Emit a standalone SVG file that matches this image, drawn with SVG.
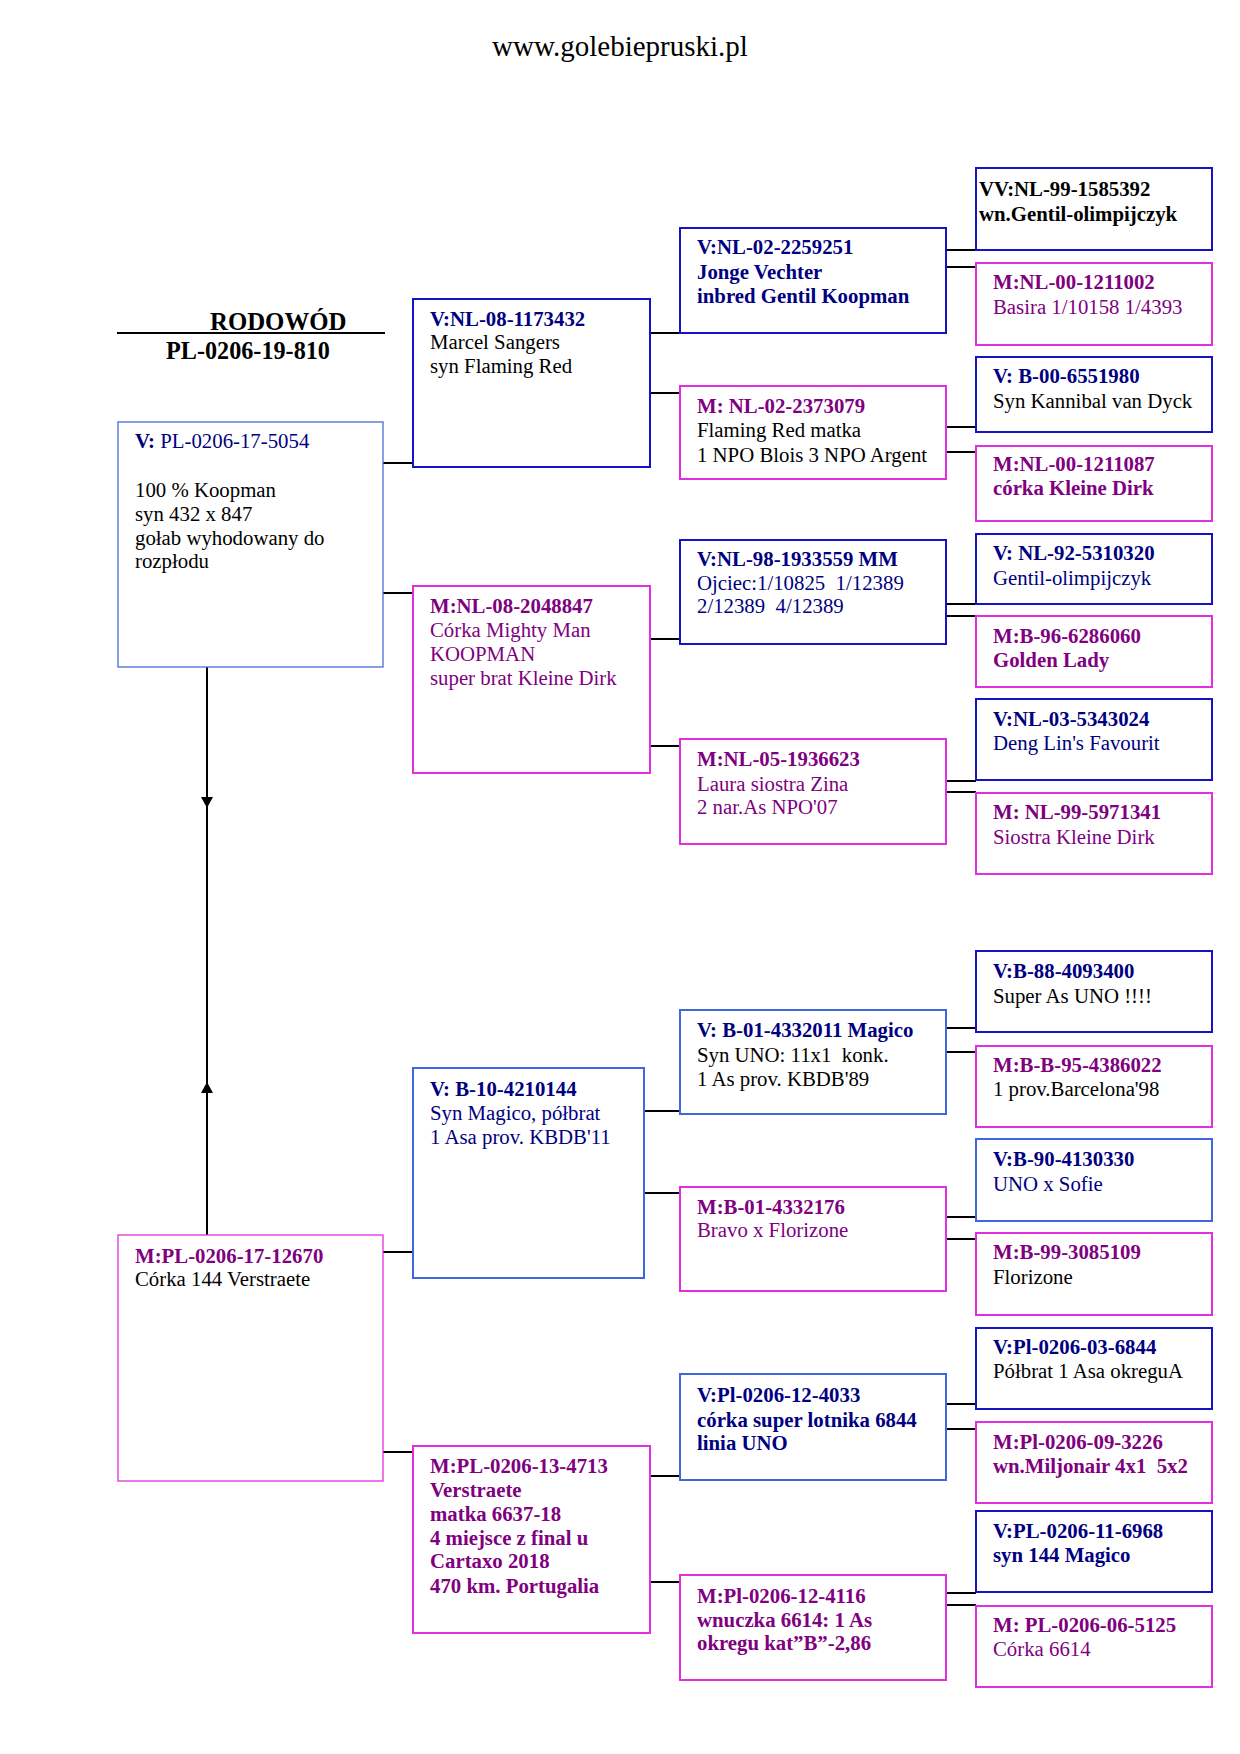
<svg xmlns="http://www.w3.org/2000/svg" width="1240" height="1754" viewBox="0 0 1240 1754">
<style>
text{font-family:"Liberation Serif","Times New Roman",serif;font-size:20.8px;white-space:pre}
.b{font-weight:bold}
.nv{fill:#000080}
.pu{fill:#800080}
.bk{fill:#000}
.bd{fill:#fff;stroke:#1414c4;stroke-width:2}
.bm{fill:#fff;stroke:#e02ee0;stroke-width:2}
.bl{fill:#fff;stroke:#3f68e0;stroke-width:2}
.bt{fill:#fff;stroke:#4a6cd4;stroke-width:1.3}
.bmt{fill:#fff;stroke:#e02ee0;stroke-width:1.3}
.c line{stroke:#000;stroke-width:2}
</style>
<rect x="0" y="0" width="1240" height="1754" fill="#fff"/>
<text x="620" y="56" text-anchor="middle" style="font-size:29px" class="bk">www.golebiepruski.pl</text>
<g id="header">
<line x1="117" y1="333" x2="385" y2="333" stroke="#000" stroke-width="2"/>
<text x="210" y="330" class="b bk" style="font-size:24.8px">RODOWÓD</text>
<text x="166" y="359" class="b bk" style="font-size:24.2px">PL-0206-19-810</text>
</g>
<g id="connectors" class="c">
<line x1="207" y1="667" x2="207" y2="1235"/>
<polygon points="201,797 213,797 207,808" fill="#000"/>
<polygon points="207,1082 201,1093 213,1093" fill="#000"/>
<line x1="383" y1="463" x2="413" y2="463"/>
<line x1="383" y1="593" x2="413" y2="593"/>
<line x1="383" y1="1252" x2="413" y2="1252"/>
<line x1="383" y1="1452" x2="413" y2="1452"/>
<line x1="650" y1="333" x2="680" y2="333"/>
<line x1="650" y1="393" x2="680" y2="393"/>
<line x1="650" y1="639" x2="680" y2="639"/>
<line x1="650" y1="746" x2="680" y2="746"/>
<line x1="644" y1="1111" x2="680" y2="1111"/>
<line x1="644" y1="1193" x2="680" y2="1193"/>
<line x1="650" y1="1476" x2="680" y2="1476"/>
<line x1="650" y1="1582" x2="680" y2="1582"/>
<line x1="946" y1="250" x2="976" y2="250"/>
<line x1="946" y1="267" x2="976" y2="267"/>
<line x1="946" y1="427" x2="976" y2="427"/>
<line x1="946" y1="452" x2="976" y2="452"/>
<line x1="946" y1="604" x2="976" y2="604"/>
<line x1="946" y1="616" x2="976" y2="616"/>
<line x1="946" y1="781" x2="976" y2="781"/>
<line x1="946" y1="792" x2="976" y2="792"/>
<line x1="946" y1="1028" x2="976" y2="1028"/>
<line x1="946" y1="1052" x2="976" y2="1052"/>
<line x1="946" y1="1217" x2="976" y2="1217"/>
<line x1="946" y1="1239" x2="976" y2="1239"/>
<line x1="946" y1="1404" x2="976" y2="1404"/>
<line x1="946" y1="1429" x2="976" y2="1429"/>
<line x1="946" y1="1593" x2="976" y2="1593"/>
<line x1="946" y1="1605" x2="976" y2="1605"/>
</g>
<g id="n-PL-0206-17-5054">
<rect x="118" y="422" width="265" height="245" class="bt"/>
<text x="135" y="448" class="nv"><tspan class="b">V:</tspan> PL-0206-17-5054</text>
<text x="135" y="497" class="bk">100 % Koopman</text>
<text x="135" y="521" class="bk">syn 432 x 847</text>
<text x="135" y="545" class="bk">gołab wyhodowany do</text>
<text x="135" y="568" class="bk">rozpłodu</text>
</g>
<g id="n-PL-0206-17-12670">
<rect x="118" y="1235" width="265" height="246" class="bmt"/>
<text x="135" y="1263" class="b pu">M:PL-0206-17-12670</text>
<text x="135" y="1286" class="bk">Córka 144 Verstraete</text>
</g>
<g id="n-NL-08-1173432">
<rect x="413" y="299" width="237" height="168" class="bd"/>
<text x="430" y="326" class="b nv">V:NL-08-1173432</text>
<text x="430" y="349" class="bk">Marcel Sangers</text>
<text x="430" y="373" class="bk">syn Flaming Red</text>
</g>
<g id="n-NL-08-2048847">
<rect x="413" y="586" width="237" height="187" class="bm"/>
<text x="430" y="613" class="b pu">M:NL-08-2048847</text>
<text x="430" y="637" class="pu">Córka Mighty Man</text>
<text x="430" y="661" class="pu">KOOPMAN</text>
<text x="430" y="685" class="pu">super brat Kleine Dirk</text>
</g>
<g id="n-B-10-4210144">
<rect x="413" y="1068" width="231" height="210" class="bl"/>
<text x="430" y="1096" class="b nv">V: B-10-4210144</text>
<text x="430" y="1120" class="nv">Syn Magico, półbrat</text>
<text x="430" y="1144" class="nv">1 Asa prov. KBDB'11</text>
</g>
<g id="n-PL-0206-13-4713">
<rect x="413" y="1446" width="237" height="187" class="bm"/>
<text x="430" y="1473" class="b pu">M:PL-0206-13-4713</text>
<text x="430" y="1497" class="b pu">Verstraete</text>
<text x="430" y="1521" class="b pu">matka 6637-18</text>
<text x="430" y="1545" class="b pu">4 miejsce z final u</text>
<text x="430" y="1568" class="b pu">Cartaxo 2018</text>
<text x="430" y="1593" class="b pu">470 km. Portugalia</text>
</g>
<g id="n-NL-02-2259251">
<rect x="680" y="228" width="266" height="105" class="bd"/>
<text x="697" y="254" class="b nv">V:NL-02-2259251</text>
<text x="697" y="279" class="b nv">Jonge Vechter</text>
<text x="697" y="303" class="b nv">inbred Gentil Koopman</text>
</g>
<g id="n-NL-02-2373079">
<rect x="680" y="386" width="266" height="93" class="bm"/>
<text x="697" y="413" class="b pu">M: NL-02-2373079</text>
<text x="697" y="437" class="bk">Flaming Red matka</text>
<text x="697" y="462" class="bk">1 NPO Blois 3 NPO Argent</text>
</g>
<g id="n-NL-98-1933559">
<rect x="680" y="540" width="266" height="104" class="bd"/>
<text x="697" y="566" class="b nv">V:NL-98-1933559 MM</text>
<text x="697" y="590" class="nv">Ojciec:1/10825  1/12389</text>
<text x="697" y="613" class="nv">2/12389  4/12389</text>
</g>
<g id="n-NL-05-1936623">
<rect x="680" y="739" width="266" height="105" class="bm"/>
<text x="697" y="766" class="b pu">M:NL-05-1936623</text>
<text x="697" y="791" class="pu">Laura siostra Zina</text>
<text x="697" y="814" class="pu">2 nar.As NPO'07</text>
</g>
<g id="n-B-01-4332011">
<rect x="680" y="1010" width="266" height="104" class="bl"/>
<text x="697" y="1037" class="b nv">V: B-01-4332011 Magico</text>
<text x="697" y="1062" class="bk">Syn UNO: 11x1  konk.</text>
<text x="697" y="1086" class="bk">1 As prov. KBDB'89</text>
</g>
<g id="n-B-01-4332176">
<rect x="680" y="1187" width="266" height="104" class="bm"/>
<text x="697" y="1214" class="b pu">M:B-01-4332176</text>
<text x="697" y="1237" class="pu">Bravo x Florizone</text>
</g>
<g id="n-Pl-0206-12-4033">
<rect x="680" y="1374" width="266" height="106" class="bl"/>
<text x="697" y="1402" class="b nv">V:Pl-0206-12-4033</text>
<text x="697" y="1427" class="b nv">córka super lotnika 6844</text>
<text x="697" y="1450" class="b nv">linia UNO</text>
</g>
<g id="n-Pl-0206-12-4116">
<rect x="680" y="1575" width="266" height="105" class="bm"/>
<text x="697" y="1603" class="b pu">M:Pl-0206-12-4116</text>
<text x="697" y="1627" class="b pu">wnuczka 6614: 1 As</text>
<text x="697" y="1650" class="b pu">okregu kat”B”-2,86</text>
</g>
<g id="n-NL-99-1585392">
<rect x="976" y="168" width="236" height="82" class="bd"/>
<text x="979" y="196" class="b bk">VV:NL-99-1585392</text>
<text x="979" y="221" class="b bk">wn.Gentil-olimpijczyk</text>
</g>
<g id="n-NL-00-1211002">
<rect x="976" y="263" width="236" height="82" class="bm"/>
<text x="993" y="289" class="b pu">M:NL-00-1211002</text>
<text x="993" y="314" class="pu">Basira 1/10158 1/4393</text>
</g>
<g id="n-B-00-6551980">
<rect x="976" y="357" width="236" height="75" class="bd"/>
<text x="993" y="383" class="b nv">V: B-00-6551980</text>
<text x="993" y="408" class="bk">Syn Kannibal van Dyck</text>
</g>
<g id="n-NL-00-1211087">
<rect x="976" y="446" width="236" height="75" class="bm"/>
<text x="993" y="471" class="b pu">M:NL-00-1211087</text>
<text x="993" y="495" class="b pu">córka Kleine Dirk</text>
</g>
<g id="n-NL-92-5310320">
<rect x="976" y="534" width="236" height="70" class="bd"/>
<text x="993" y="560" class="b nv">V: NL-92-5310320</text>
<text x="993" y="585" class="nv">Gentil-olimpijczyk</text>
</g>
<g id="n-B-96-6286060">
<rect x="976" y="616" width="236" height="71" class="bm"/>
<text x="993" y="643" class="b pu">M:B-96-6286060</text>
<text x="993" y="667" class="b pu">Golden Lady</text>
</g>
<g id="n-NL-03-5343024">
<rect x="976" y="699" width="236" height="81" class="bd"/>
<text x="993" y="726" class="b nv">V:NL-03-5343024</text>
<text x="993" y="750" class="nv">Deng Lin's Favourit</text>
</g>
<g id="n-NL-99-5971341">
<rect x="976" y="793" width="236" height="81" class="bm"/>
<text x="993" y="819" class="b pu">M: NL-99-5971341</text>
<text x="993" y="844" class="pu">Siostra Kleine Dirk</text>
</g>
<g id="n-B-88-4093400">
<rect x="976" y="951" width="236" height="81" class="bd"/>
<text x="993" y="978" class="b nv">V:B-88-4093400</text>
<text x="993" y="1003" class="bk">Super As UNO !!!!</text>
</g>
<g id="n-B-B-95-4386022">
<rect x="976" y="1046" width="236" height="81" class="bm"/>
<text x="993" y="1072" class="b pu">M:B-B-95-4386022</text>
<text x="993" y="1096" class="bk">1 prov.Barcelona'98</text>
</g>
<g id="n-B-90-4130330">
<rect x="976" y="1139" width="236" height="82" class="bl"/>
<text x="993" y="1166" class="b nv">V:B-90-4130330</text>
<text x="993" y="1191" class="nv">UNO x Sofie</text>
</g>
<g id="n-B-99-3085109">
<rect x="976" y="1233" width="236" height="82" class="bm"/>
<text x="993" y="1259" class="b pu">M:B-99-3085109</text>
<text x="993" y="1284" class="bk">Florizone</text>
</g>
<g id="n-Pl-0206-03-6844">
<rect x="976" y="1328" width="236" height="81" class="bd"/>
<text x="993" y="1354" class="b nv">V:Pl-0206-03-6844</text>
<text x="993" y="1378" class="bk">Półbrat 1 Asa okreguA</text>
</g>
<g id="n-Pl-0206-09-3226">
<rect x="976" y="1422" width="236" height="81" class="bm"/>
<text x="993" y="1449" class="b pu">M:Pl-0206-09-3226</text>
<text x="993" y="1473" class="b pu">wn.Miljonair 4x1  5x2</text>
</g>
<g id="n-PL-0206-11-6968">
<rect x="976" y="1511" width="236" height="81" class="bd"/>
<text x="993" y="1538" class="b nv">V:PL-0206-11-6968</text>
<text x="993" y="1562" class="b nv">syn 144 Magico</text>
</g>
<g id="n-PL-0206-06-5125">
<rect x="976" y="1606" width="236" height="81" class="bm"/>
<text x="993" y="1632" class="b pu">M: PL-0206-06-5125</text>
<text x="993" y="1656" class="pu">Córka 6614</text>
</g>
</svg>
